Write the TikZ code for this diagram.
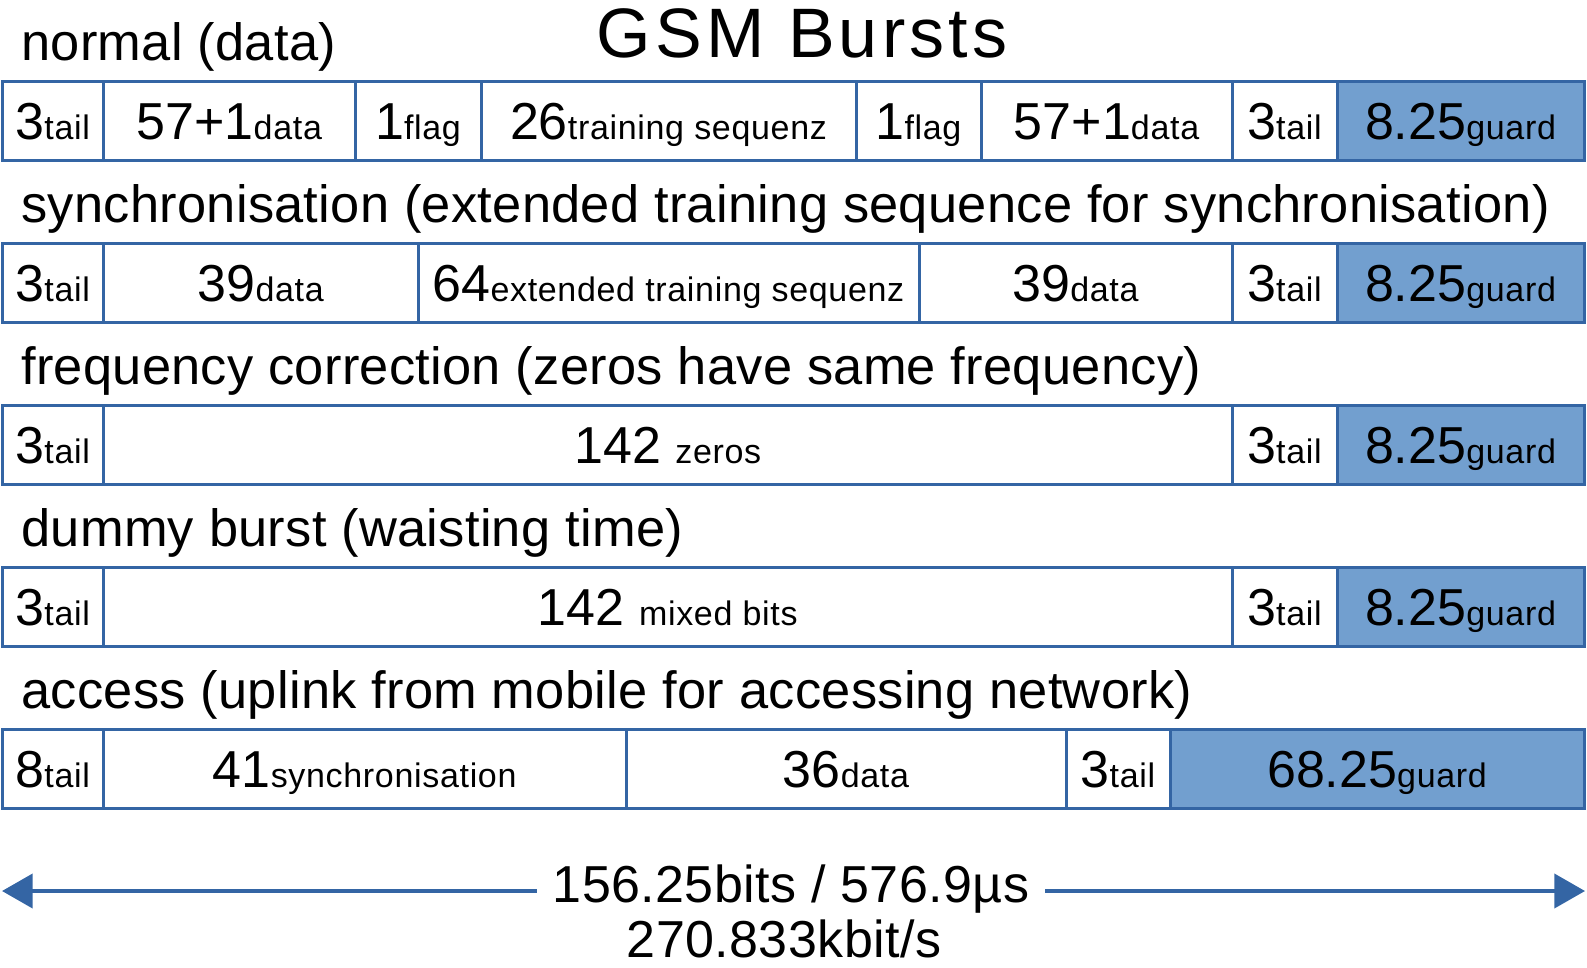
\documentclass[tikz,border=0pt]{standalone}
\usepackage{fontspec}
\setmainfont{Liberation Sans}
\newfontfamily\lblfont[LetterSpace=0.55]{Liberation Sans}
\newfontfamily\lenfont[LetterSpace=0.8]{Liberation Sans}
\newfontfamily\smlfont[LetterSpace=2]{Liberation Sans}
\newfontfamily\ttlfont[LetterSpace=6]{Liberation Sans}
\usetikzlibrary{arrows.meta}
\definecolor{bord}{HTML}{3465A4}
\definecolor{guardfill}{HTML}{729FCF}
\newcommand\bs[2]{{\fontsize{39}{44}\selectfont #1}{\smlfont\fontsize{25.5}{30}\selectfont #2}}
\newcommand\cell[6]{\node[#5, minimum width={(#3-(#2))*0.75pt}] (#1) at ({(#2+#3)/2},{#4+39.5}) {#6};}
\begin{document}
\begin{tikzpicture}[x=0.75pt,y=-0.75pt,
  cellbox/.style={draw=bord, line width=2.25pt, fill=white, inner sep=0pt, outer sep=0pt,
    minimum height=59.25pt, text height=27.75pt, text depth=0pt, anchor=center},
  guardbox/.style={cellbox, fill=guardfill},
  lbl/.style={anchor=base west, inner sep=0pt, font=\lblfont\fontsize{39.3}{44}\selectfont},
  ttl/.style={anchor=base, inner sep=0pt, font=\ttlfont\fontsize{52.5}{60}\selectfont},
  lentxt/.style={anchor=base, inner sep=12pt, outer sep=0pt, font=\lenfont\fontsize{39}{44}\selectfont},
  arr/.style={draw=bord, line width=3pt, -{Triangle[length=23pt,width=25.5pt]}}
]
\useasboundingbox (0,0) rectangle (1587,967);

\node[ttl] (title) at (802,57) {GSM Bursts};

% row 1
\node[lbl] (l1) at (21,60) {normal (data)};
\cell{r1a}{2}{103.5}{81}{cellbox}{\bs{3}{tail}}
\cell{r1b}{103.5}{355}{81}{cellbox}{\bs{57+1}{data}}
\cell{r1c}{355}{481}{81}{cellbox}{\bs{1}{flag}}
\cell{r1d}{481}{856}{81}{cellbox}{\bs{26}{training sequenz}}
\cell{r1e}{856}{981}{81}{cellbox}{\bs{1}{flag}}
\cell{r1f}{981}{1232}{81}{cellbox}{\bs{57+1}{data}}
\cell{r1g}{1232}{1337}{81}{cellbox}{\bs{3}{tail}}
\cell{r1h}{1337}{1584}{81}{guardbox}{\bs{8.25}{guard}}

% row 2
\node[lbl] (l2) at (21,222) {synchronisation (extended training sequence for synchronisation)};
\cell{r2a}{2}{103.5}{243}{cellbox}{\bs{3}{tail}}
\cell{r2b}{103.5}{418}{243}{cellbox}{\bs{39}{data}}
\cell{r2c}{418}{919}{243}{cellbox}{\bs{64}{extended training sequenz}}
\cell{r2d}{919}{1232}{243}{cellbox}{\bs{39}{data}}
\cell{r2e}{1232}{1337}{243}{cellbox}{\bs{3}{tail}}
\cell{r2f}{1337}{1584}{243}{guardbox}{\bs{8.25}{guard}}

% row 3
\node[lbl] (l3) at (21,384) {frequency correction (zeros have same frequency)};
\cell{r3a}{2}{103.5}{405}{cellbox}{\bs{3}{tail}}
\cell{r3b}{103.5}{1232}{405}{cellbox}{\bs{142 }{zeros}}
\cell{r3c}{1232}{1337}{405}{cellbox}{\bs{3}{tail}}
\cell{r3d}{1337}{1584}{405}{guardbox}{\bs{8.25}{guard}}

% row 4
\node[lbl] (l4) at (21,546) {dummy burst (waisting time)};
\cell{r4a}{2}{103.5}{567}{cellbox}{\bs{3}{tail}}
\cell{r4b}{103.5}{1232}{567}{cellbox}{\bs{142 }{mixed bits}}
\cell{r4c}{1232}{1337}{567}{cellbox}{\bs{3}{tail}}
\cell{r4d}{1337}{1584}{567}{guardbox}{\bs{8.25}{guard}}

% row 5
\node[lbl] (l5) at (21,708) {access (uplink from mobile for accessing network)};
\cell{r5a}{2}{103.5}{729}{cellbox}{\bs{8}{tail}}
\cell{r5b}{103.5}{626}{729}{cellbox}{\bs{41}{synchronisation}}
\cell{r5c}{626}{1066}{729}{cellbox}{\bs{36}{data}}
\cell{r5d}{1066}{1170}{729}{cellbox}{\bs{3}{tail}}
\cell{r5e}{1170}{1584}{729}{guardbox}{\bs{68.25}{guard}}

% length arrow
\coordinate (L) at (2,891);
\coordinate (R) at (1585,891);
\node[lentxt] (len1) at (791,902) {156.25bits / 576.9µs};
\node[lentxt] (len2) at (784,957) {270.833kbit/s};
\draw[arr] (len1.west |- L) -- (L);
\draw[arr] (len1.east |- R) -- (R);
\end{tikzpicture}
\end{document}
